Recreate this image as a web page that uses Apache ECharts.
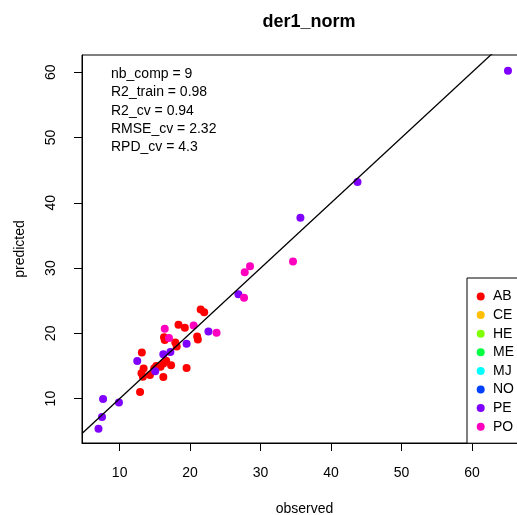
<!DOCTYPE html>
<html>
<head>
<meta charset="utf-8">
<script src="https://cdn.jsdelivr.net/npm/echarts@6/dist/echarts.min.js"></script>
<style>html,body{margin:0;padding:0;background:#fff;}#c{width:517px;height:515px;}</style>
</head>
<body>
<div id="c"></div>
<script>
var groups = ['AB', 'CE', 'HE', 'ME', 'MJ', 'NO', 'PE', 'PO'];
var groupColors = ['#FF0000', '#FFBF00', '#80FF00', '#00FF40', '#00FFFF', '#0040FF', '#8000FF', '#FF00BF'];

var abObserved  = [21.5, 22.0, 18.35, 19.25, 21.0, 21.1, 16.3, 16.4, 17.9, 18.1, 13.15, 16.2, 17.3, 15.2, 15.8, 13.4, 13.1, 14.3, 13.3, 16.2, 19.5, 12.9, 14.9, 16.6];
var abPredicted = [23.65, 23.25, 21.3, 20.85, 19.5, 19.05, 19.4, 19.0, 18.6, 18.0, 17.05, 15.4, 15.1, 15.0, 14.9, 14.6, 13.9, 13.6, 13.35, 13.3, 14.7, 11.0, 14.6, 15.8];

var peObserved  = [65.1, 43.75, 35.65, 26.85, 22.6, 19.5, 17.2, 16.2, 12.5, 15.05, 7.65, 9.9, 7.5, 7.0];
var pePredicted = [60.25, 43.2, 37.7, 26.0, 20.3, 18.4, 17.15, 16.8, 15.75, 14.2, 9.95, 9.4, 7.2, 5.4];

var poObserved  = [28.5, 27.75, 27.65, 20.5, 23.75, 16.4, 17.0, 34.6];
var poPredicted = [30.3, 29.35, 25.45, 21.2, 20.1, 20.7, 19.3, 31.0];

var tickValues = [10, 20, 30, 40, 50, 60];
var xRange = [4.66, 67.8];
var yRange = [3.2, 62.65];

var statLines = ['nb_comp = 9', 'R2_train = 0.98', 'R2_cv = 0.94', 'RMSE_cv = 2.32', 'RPD_cv = 4.3'];

function pairs(xs, ys) { return xs.map(function (x, i) { return [x, ys[i]]; }); }
var groupData = {
  AB: pairs(abObserved, abPredicted),
  PE: pairs(peObserved, pePredicted),
  PO: pairs(poObserved, poPredicted)
};

var font = 'Liberation Sans, Arial, sans-serif';
var series = groups.map(function (g, i) {
  return {
    name: g,
    type: 'scatter',
    data: groupData[g] || [],
    symbol: 'circle',
    symbolSize: 8,
    itemStyle: { color: groupColors[i], opacity: 1 },
    emphasis: { disabled: true },
    z: 2
  };
});
series.push({
  type: 'line',
  data: [[xRange[0], xRange[0]], [xRange[1], xRange[1]]],
  symbol: 'none',
  lineStyle: { color: '#000', width: 1.3 },
  clip: true,
  silent: true,
  z: 5
});

var chart = echarts.init(document.getElementById('c'), null, { renderer: 'canvas' });
chart.setOption({
  backgroundColor: '#fff',
  animation: false,
  title: {
    text: 'der1_norm',
    left: 304, top: 8, textAlign: 'center',
    textStyle: { fontFamily: font, fontSize: 18, fontWeight: 'bold', color: '#000' }
  },
  grid: {
    left: 82, top: 55, width: 445, height: 388,
    outerBoundsMode: 'none',
    containLabel: false,
    show: true, borderColor: '#000', borderWidth: 1, backgroundColor: 'transparent'
  },
  legend: {
    data: groups,
    orient: 'vertical',
    left: 467, top: 278,
    padding: [11.5, 40, 9.5, 9.7],
    itemGap: 4.6,
    itemWidth: 14.6, itemHeight: 8,
    icon: 'circle',
    borderColor: '#000', borderWidth: 1,
    backgroundColor: '#fff',
    textStyle: { fontFamily: font, fontSize: 14, color: '#000', padding: [0, 0, 0, 0] },
    selectedMode: false
  },
  xAxis: {
    type: 'value',
    min: xRange[0], max: xRange[1],
    name: 'observed', nameLocation: 'middle', nameGap: 59,
    nameTextStyle: { fontFamily: font, fontSize: 14, color: '#000' },
    axisLine: { show: true, onZero: false, lineStyle: { color: '#000' } },
    axisTick: { show: true, inside: false, length: 8, customValues: tickValues, lineStyle: { color: '#000' } },
    axisLabel: { customValues: tickValues, margin: 23, fontFamily: font, fontSize: 14, color: '#000' },
    splitLine: { show: false }
  },
  yAxis: {
    type: 'value',
    min: yRange[0], max: yRange[1],
    name: 'predicted', nameLocation: 'middle', nameGap: 55,
    nameTextStyle: { fontFamily: font, fontSize: 14, color: '#000' },
    axisLine: { show: true, onZero: false, lineStyle: { color: '#000' } },
    axisTick: { show: true, inside: false, length: 8, customValues: tickValues, lineStyle: { color: '#000' } },
    axisLabel: { customValues: tickValues, rotate: 90, margin: 24, fontFamily: font, fontSize: 14, color: '#000' },
    splitLine: { show: false }
  },
  graphic: [{
    type: 'text',
    left: 111, top: 65,
    style: {
      text: statLines.join('\n'),
      font: '14px ' + font,
      lineHeight: 18.3,
      fill: '#000'
    },
    z: 10
  }],
  series: series
});
</script>
</body>
</html>
